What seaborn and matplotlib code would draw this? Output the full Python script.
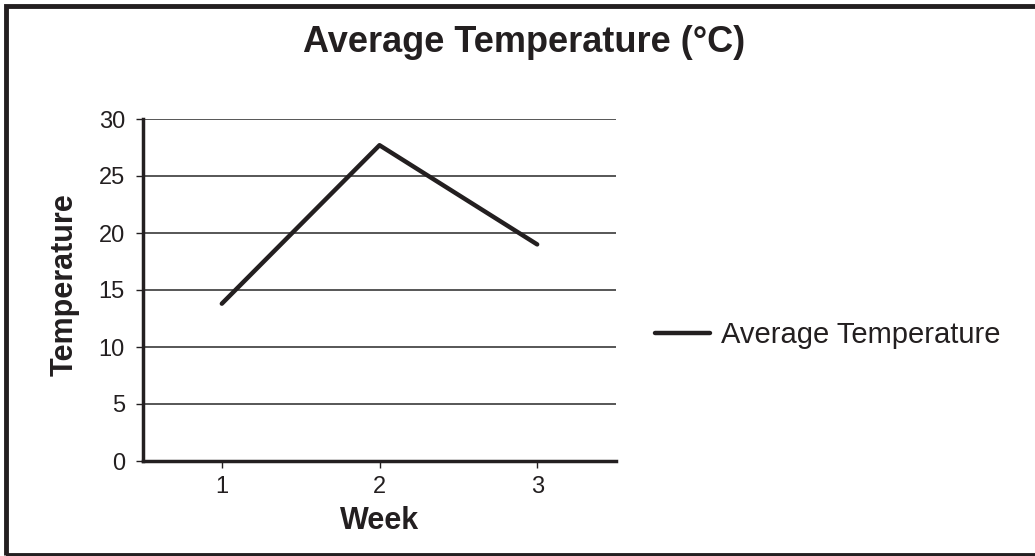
import matplotlib
matplotlib.use("Agg")
import matplotlib.pyplot as plt
import seaborn as sns
import pandas as pd
from matplotlib.patches import Rectangle

weeks = [1, 2, 3]
avg_temp = [13.8, 27.7, 19.0]
y_ticks = [0, 5, 10, 15, 20, 25, 30]

sns.set_theme(style="white")
plt.rcParams["font.family"] = ["Liberation Sans", "DejaVu Sans"]

df = pd.DataFrame({"Week": weeks, "Average Temperature": avg_temp})

fig = plt.figure(figsize=(10.35, 5.56), dpi=100)
ax = fig.add_axes([143 / 1035, 1 - 461 / 556, (616 - 143) / 1035, (461 - 119) / 556])

sns.lineplot(data=df, x="Week", y="Average Temperature", ax=ax, color="#231f20",
             linewidth=3.2, label="Average Temperature")

ax.set_xlim(0.5, 3.5)
ax.set_ylim(0, 30)
ax.set_xticks(weeks)
ax.set_yticks(y_ticks)
ax.yaxis.grid(True, color="#3a3a3a", linewidth=1.2)
ax.set_axisbelow(True)
for s in ["top", "right"]:
    ax.spines[s].set_visible(False)
for s in ["left", "bottom"]:
    ax.spines[s].set_color("#231f20")
    ax.spines[s].set_linewidth(2.5)
ax.tick_params(axis="both", which="both", length=5, width=1, color="#231f20",
               labelsize=17, labelcolor="#231f20", bottom=True, left=True)
ax.tick_params(axis="y", pad=8)
ax.tick_params(axis="x", pad=6)
ax.set_xlabel("Week", fontsize=22, fontweight="bold", color="#231f20")
ax.set_ylabel("Temperature", fontsize=22, fontweight="bold", color="#231f20")
ax.xaxis.set_label_coords(0.5, -0.131)
ax.yaxis.set_label_coords(-0.133, 0.515)

leg = ax.legend(loc="center left", bbox_to_anchor=(1.0825, 0.368), frameon=False,
                fontsize=21, handlelength=1.9, handletextpad=0.35,
                borderpad=0, borderaxespad=0)
for t in leg.get_texts():
    t.set_color("#231f20")

fig.text(0.506, 1 - 42 / 556, "Average Temperature (°C)", ha="center", va="center",
         fontsize=26, fontweight="bold", color="#231f20")

fig.patches.append(Rectangle((5.5 / 1035, 1.5 / 556), 1.1, 1 - 7 / 556, transform=fig.transFigure,
                             fill=False, edgecolor="#231f20", linewidth=3.5))

fig.savefig("out.png", dpi=100)
